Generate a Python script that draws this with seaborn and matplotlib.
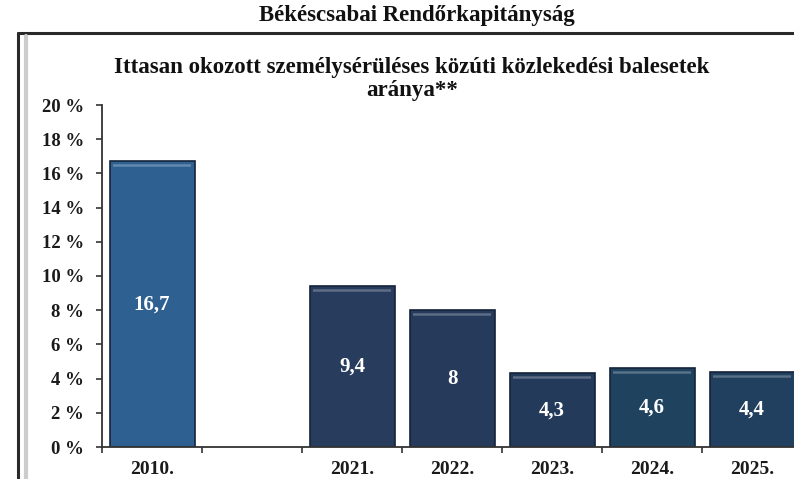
import matplotlib
matplotlib.use("Agg")
import matplotlib.pyplot as plt
import matplotlib.colors as mcolors
from matplotlib.lines import Line2D
from matplotlib.patches import Rectangle
import seaborn as sns
import pandas as pd

# Data
years = ["2010.", "2021.", "2022.", "2023.", "2024.", "2025."]
rates = [16.7, 9.4, 8.0, 4.3, 4.6, 4.4]
slot_order = ["2010.", " ", "2021.", "2022.", "2023.", "2024.", "2025."]
bar_colors = {
    "2010.": "#2e6191",
    "2021.": "#283c5d",
    "2022.": "#263b5c",
    "2023.": "#233a5a",
    "2024.": "#1f435f",
    "2025.": "#213f5e",
}
y_ticks = [0, 2, 4, 6, 8, 10, 12, 14, 16, 18, 20]

suptitle = "Békéscsabai Rendőrkapitányság"
title = "Ittasan okozott személysérüléses közúti közlekedési balesetek\naránya**"

sns.set_theme(style="white")
plt.rcParams["font.family"] = ["Liberation Serif", "DejaVu Serif"]
plt.rcParams["font.weight"] = "bold"

df = pd.DataFrame({"year": years, "rate": rates})

fig = plt.figure(figsize=(7.94, 4.79), dpi=100)
fig.patch.set_facecolor("white")
ax = fig.add_axes([102 / 794, 32 / 479, 692 / 794, 342 / 479])

sns.barplot(
    data=df, x="year", y="rate", hue="year", order=slot_order,
    palette=bar_colors, width=0.85, saturation=1, legend=False,
    edgecolor="#15223a", linewidth=1.2, ax=ax,
)

# bevel highlight just below each bar top
px_per_unit = 342 / 20
for patch in list(ax.patches):
    h = patch.get_height()
    if not h or h != h:
        continue
    face = mcolors.to_rgb(patch.get_facecolor())
    x0 = patch.get_x() + patch.get_width() * 0.04
    w = patch.get_width() * 0.92
    for k, amt in enumerate([0.18, 0.26, 0.18]):
        light = tuple(c + (1 - c) * amt for c in face)
        ax.add_patch(Rectangle((x0, h - (4 + k) / px_per_unit), w,
                               1 / px_per_unit, facecolor=light,
                               edgecolor="none", zorder=3))

# value labels inside bars
for container in ax.containers:
    vals = container.datavalues
    labels = [("" if v != v else f"{v:g}".replace(".", ",")) for v in vals]
    ax.bar_label(container, labels=labels, label_type="center", color="white",
                 fontsize=15, fontweight="bold", zorder=5)

ax.set_ylim(0, 20)
ax.set_xlim(-0.5, 6.42)
ax.set_yticks(y_ticks)
ax.set_yticklabels([f"{t} %" for t in y_ticks])
ax.set_xticks(range(len(slot_order)))
ax.set_xticklabels(slot_order)
ax.set_xticks([i - 0.5 for i in range(len(slot_order))], minor=True)
ax.tick_params(axis="x", which="major", length=0, pad=10, labelsize=14,
               labelcolor="#1a1a1a")
ax.tick_params(axis="x", which="minor", length=4, width=1.2, color="#333333",
               direction="out", bottom=True)
ax.tick_params(axis="y", length=4, width=1.2, color="#333333", direction="out",
               left=True, pad=9, labelsize=13.5, labelcolor="#1a1a1a")
for lbl in ax.get_xticklabels() + ax.get_yticklabels():
    lbl.set_fontweight("bold")
ax.set_xlabel("")
ax.set_ylabel("")
for side in ("top", "right"):
    ax.spines[side].set_visible(False)
for side in ("left", "bottom"):
    ax.spines[side].set_color("#333333")
    ax.spines[side].set_linewidth(1.3)
ax.set_facecolor("none")

# headings
fig.text(417 / 794, 1 - 15 / 479, suptitle, ha="center", va="center",
         fontsize=16.5, fontweight="bold", color="#111111")
fig.text(412 / 794, 1 - 79 / 479, title, ha="center", va="center",
         fontsize=16.5, fontweight="bold", color="#111111", linespacing=1.1)

# document frame
fig.add_artist(Line2D([18 / 794, 1], [1 - 33 / 479, 1 - 33 / 479],
                      color="#2a2a2a", linewidth=2.2))
fig.add_artist(Line2D([18 / 794, 18 / 794], [0, 1 - 33 / 479],
                      color="#2a2a2a", linewidth=2.2))
fig.add_artist(Line2D([26 / 794, 26 / 794], [0, 1 - 36 / 479],
                      color="#cccccc", linewidth=3))

fig.savefig("out.png", dpi=100)
